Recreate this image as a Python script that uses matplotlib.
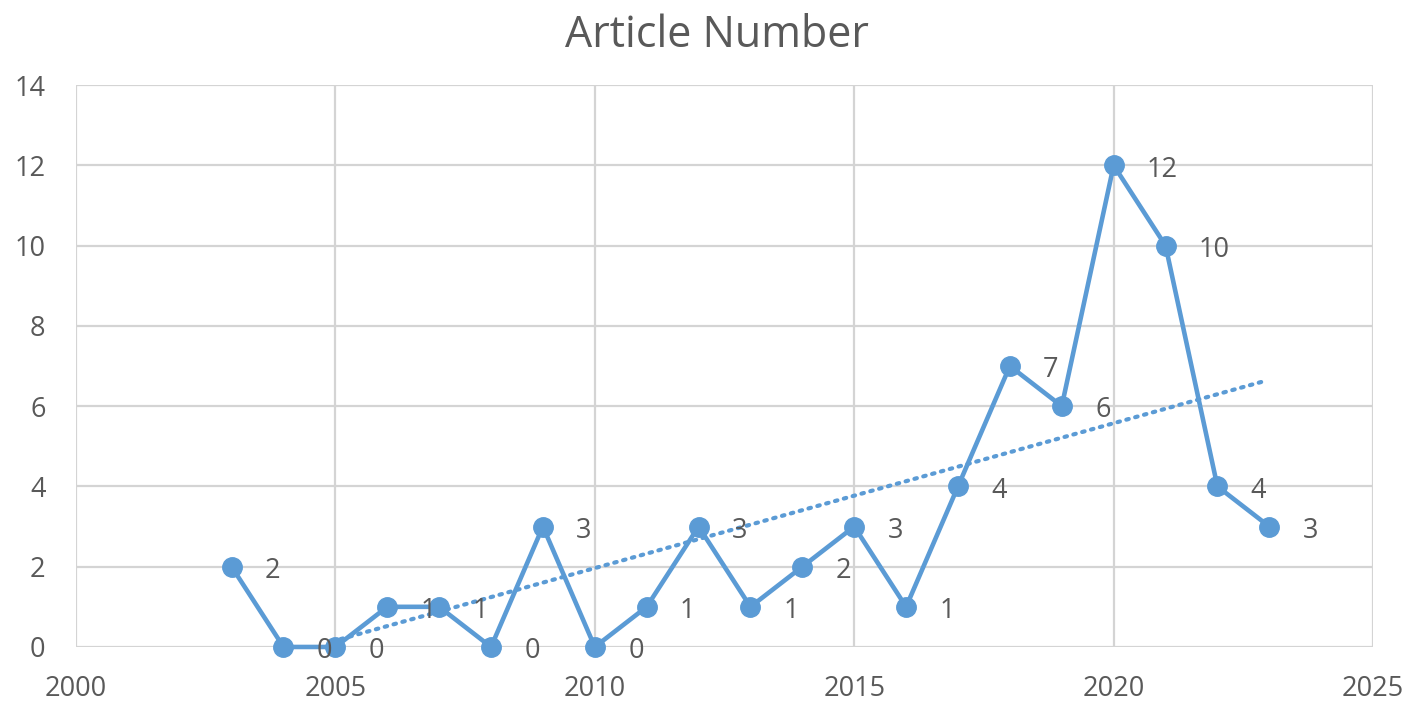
import matplotlib
matplotlib.use("Agg")
import matplotlib.pyplot as plt
import numpy as np

plt.rcParams['font.family'] = ['Open Sans', 'DejaVu Sans']

years = [2003, 2004, 2005, 2006, 2007, 2008, 2009, 2010, 2011, 2012, 2013,
         2014, 2015, 2016, 2017, 2018, 2019, 2020, 2021, 2022, 2023]
counts = [2, 0, 0, 1, 1, 0, 3, 0, 1, 3, 1, 2, 3, 1, 4, 7, 6, 12, 10, 4, 3]
x_ticks = [2000, 2005, 2010, 2015, 2020, 2025]
y_ticks = [0, 2, 4, 6, 8, 10, 12, 14]
title = "Article Number"

blue = "#5B9BD5"
grid_c = "#D4D4D4"
text_c = "#595959"

fig = plt.figure(figsize=(14.17, 7.09), dpi=100)
ax = fig.add_axes([0.0536, 0.0875, 0.9154, 0.7925])

ax.set_xlim(2000, 2025)
ax.set_ylim(0, 14)
ax.set_xticks(x_ticks)
ax.set_yticks(y_ticks)
ax.grid(True, color=grid_c, linewidth=1.6)
ax.set_axisbelow(True)
for s in ax.spines.values():
    s.set_visible(False)
ax.tick_params(length=0, labelsize=19.5, colors=text_c)
ax.tick_params(axis='x', pad=20)
ax.tick_params(axis='y', pad=22)

# trendline (linear fit of the series)
coef = np.polyfit(years, counts, 1)
tx = np.array([2005.1, 2022.9])
ax.plot(tx, np.polyval(coef, tx), linestyle=(0, (0.6, 1.6)), color=blue,
        linewidth=3, dash_capstyle='round', zorder=2)

ax.plot(years, counts, color=blue, linewidth=3.3, marker='o', markersize=14,
        zorder=3, clip_on=False)

for x, y in zip(years, counts):
    ax.annotate(str(y), (x, y), xytext=(24, -3), textcoords='offset points',
                ha='left', va='center', fontsize=19.5, color=text_c, zorder=4)

fig.text(0.506, 0.949, title, ha='center', va='center', fontsize=31, color=text_c)

fig.savefig("out.png", dpi=100)
